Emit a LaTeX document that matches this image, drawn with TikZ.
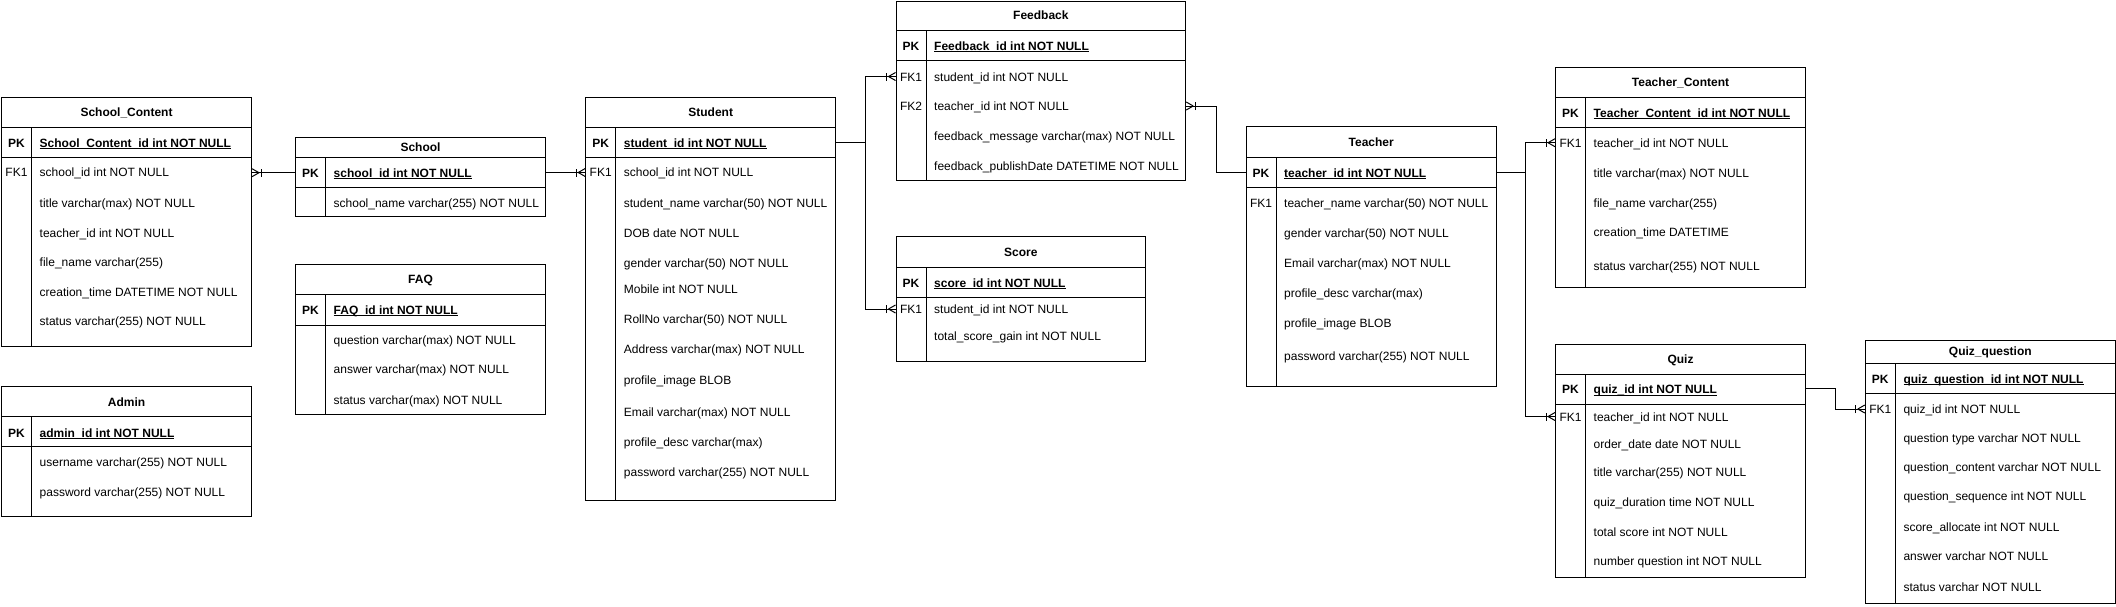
\documentclass[tikz,border=0pt]{standalone}
\usepackage{fontspec}
\setmainfont{Liberation Sans}
\usetikzlibrary{fit,calc}

\newcounter{tn}
\tikzset{
  x=1pt, y=-1pt,
  tline/.style={draw=black, line width=1pt},
  tbox/.style={draw=black, line width=1pt, inner sep=0pt},
  conn/.style={draw=black, line width=1pt},
  txt/.style={inner sep=0pt, text height=8.6pt, text depth=0pt, font=\fontsize{12}{14}\selectfont},
  ttitle/.style={txt, font=\bfseries\fontsize{12}{14}\selectfont},
  tkey/.style={txt},
  tpkkey/.style={txt, font=\bfseries\fontsize{12}{14}\selectfont},
  tfield/.style={txt, anchor=west},
  tpk/.style={txt, anchor=west, font=\bfseries\fontsize{12}{14}\selectfont},
}

\newcommand{\ulx}[1]{\setbox0\hbox{#1}\rlap{\rule[-2pt]{\wd0}{0.9pt}}\box0}

% #1 name #2 left #3 top #4 right #5 bottom #6 title div #7 pk div #8 title
\newcommand{\ertable}[8]{%
  \coordinate (#1-nw) at (#2,#3);
  \coordinate (#1-se) at (#4,#5);
  \node[tbox, fit=(#1-nw)(#1-se)] (#1) {};
  \draw[tline] (#2,#6) -- (#4,#6);
  \draw[tline] (#2,#7) -- (#4,#7);
  \draw[tline] (#2+30,#6) -- (#2+30,#5);
  \node[ttitle] (#1-title) at ({(#2+#4)/2},{(#3+#6)/2}) {#8};
}
% #1 left #2 y #3 text
\newcommand{\pkrow}[3]{\stepcounter{tn}%
  \node[tpkkey] (k\arabic{tn}) at (#1+15,#2) {PK};
  \node[tpk] (f\arabic{tn}) at (#1+38,#2) {\ulx{#3}};}
% #1 left #2 y #3 key #4 text
\newcommand{\frow}[4]{\stepcounter{tn}%
  \node[tkey] (k\arabic{tn}) at (#1+15,#2) {#3};
  \node[tfield] (f\arabic{tn}) at (#1+38,#2) {#4};}

% crow's foot, box to the right of the point
\newcommand{\crowR}[1]{%
  \draw[conn] ($(#1)+(-7,0)$) -- ($(#1)+(0,4)$);
  \draw[conn] ($(#1)+(-7,0)$) -- ($(#1)+(0,-4)$);
  \draw[conn] ($(#1)+(-9,4)$) -- ($(#1)+(-9,-4)$);}
% crow's foot, box to the left of the point
\newcommand{\crowL}[1]{%
  \draw[conn] ($(#1)+(7,0)$) -- ($(#1)+(0,4)$);
  \draw[conn] ($(#1)+(7,0)$) -- ($(#1)+(0,-4)$);
  \draw[conn] ($(#1)+(9,4)$) -- ($(#1)+(9,-4)$);}

\begin{document}
\begin{tikzpicture}
\useasboundingbox (0,0) rectangle (2116,606);

% School_Content
\ertable{sc}{1.5}{97.3}{251.5}{346.3}{127}{157.3}{School\_Content}
\pkrow{1.5}{142.7}{School\_Content\_id int NOT NULL}
\frow{1.5}{172.3}{FK1}{school\_id int NOT NULL}
\frow{1.5}{202.7}{}{title varchar(max) NOT NULL}
\frow{1.5}{232.7}{}{teacher\_id int NOT NULL}
\frow{1.5}{262.3}{}{file\_name varchar(255)}
\frow{1.5}{291.7}{}{creation\_time DATETIME NOT NULL}
\frow{1.5}{321}{}{status varchar(255) NOT NULL}

% Admin
\ertable{admin}{1.5}{386.7}{251.5}{516.7}{416.7}{446.7}{Admin}
\pkrow{1.5}{432.7}{admin\_id int NOT NULL}
\frow{1.5}{462.3}{}{username varchar(255) NOT NULL}
\frow{1.5}{491.7}{}{password varchar(255) NOT NULL}

% School
\ertable{school}{295.5}{137.7}{545.5}{216.7}{157.3}{187.3}{School}
\pkrow{295.5}{172.7}{school\_id int NOT NULL}
\frow{295.5}{202.7}{}{school\_name varchar(255) NOT NULL}

% FAQ
\ertable{faq}{295.5}{264.3}{545.5}{414}{294.3}{325}{FAQ}
\pkrow{295.5}{310}{FAQ\_id int NOT NULL}
\frow{295.5}{340}{}{question varchar(max) NOT NULL}
\frow{295.5}{369.3}{}{answer varchar(max) NOT NULL}
\frow{295.5}{400}{}{status varchar(max) NOT NULL}

% Student
\ertable{student}{585.7}{97.3}{835.7}{500}{127.3}{157.3}{Student}
\pkrow{585.7}{142.7}{student\_id int NOT NULL}
\frow{585.7}{172.3}{FK1}{school\_id int NOT NULL}
\frow{585.7}{202.7}{}{student\_name varchar(50) NOT NULL}
\frow{585.7}{232.7}{}{DOB date NOT NULL}
\frow{585.7}{262.7}{}{gender varchar(50) NOT NULL}
\frow{585.7}{289.3}{}{Mobile int NOT NULL}
\frow{585.7}{319.3}{}{RollNo varchar(50) NOT NULL}
\frow{585.7}{349.3}{}{Address varchar(max) NOT NULL}
\frow{585.7}{380}{}{profile\_image BLOB}
\frow{585.7}{411.7}{}{Email varchar(max) NOT NULL}
\frow{585.7}{441.7}{}{profile\_desc varchar(max)}
\frow{585.7}{471.7}{}{password varchar(255) NOT NULL}

% Feedback
\ertable{feedback}{896}{1}{1185.7}{180.7}{30}{60.7}{Feedback}
\pkrow{896}{46}{Feedback\_id int NOT NULL}
\frow{896}{77.3}{FK1}{student\_id int NOT NULL}
\frow{896}{106}{FK2}{teacher\_id int NOT NULL}
\frow{896}{136}{}{feedback\_message varchar(max) NOT NULL}
\frow{896}{165.7}{}{feedback\_publishDate DATETIME NOT NULL}

% Score
\ertable{score}{896}{236.7}{1145.7}{361}{267.3}{297}{Score}
\pkrow{896}{282.7}{score\_id int NOT NULL}
\frow{896}{309.3}{FK1}{student\_id int NOT NULL}
\frow{896}{336}{}{total\_score\_gain int NOT NULL}

% Teacher
\ertable{teacher}{1246}{126.7}{1496.5}{386.7}{157.3}{187}{Teacher}
\pkrow{1246}{172.7}{teacher\_id int NOT NULL}
\frow{1246}{202.7}{FK1}{teacher\_name varchar(50) NOT NULL}
\frow{1246}{232.7}{}{gender varchar(50) NOT NULL}
\frow{1246}{262.7}{}{Email varchar(max) NOT NULL}
\frow{1246}{292.7}{}{profile\_desc varchar(max)}
\frow{1246}{323.3}{}{profile\_image BLOB}
\frow{1246}{355.7}{}{password varchar(255) NOT NULL}

% Teacher_Content
\ertable{tc}{1555.5}{67.3}{1805.5}{287.3}{97.3}{127.7}{Teacher\_Content}
\pkrow{1555.5}{112.7}{Teacher\_Content\_id int NOT NULL}
\frow{1555.5}{142.7}{FK1}{teacher\_id int NOT NULL}
\frow{1555.5}{172.7}{}{title varchar(max) NOT NULL}
\frow{1555.5}{202.7}{}{file\_name varchar(255)}
\frow{1555.5}{231.7}{}{creation\_time DATETIME}
\frow{1555.5}{265.7}{}{status varchar(255) NOT NULL}

% Quiz
\ertable{quiz}{1555.5}{344}{1805.5}{577.7}{374}{404}{Quiz}
\pkrow{1555.5}{389.3}{quiz\_id int NOT NULL}
\frow{1555.5}{416.7}{FK1}{teacher\_id int NOT NULL}
\frow{1555.5}{444}{}{order\_date date NOT NULL}
\frow{1555.5}{471.7}{}{title varchar(255) NOT NULL}
\frow{1555.5}{501.7}{}{quiz\_duration time NOT NULL}
\frow{1555.5}{531.7}{}{total score int NOT NULL}
\frow{1555.5}{561}{}{number question int NOT NULL}

% Quiz_question
\ertable{qq}{1865.3}{340}{2115.3}{603.3}{363.3}{393.3}{Quiz\_question}
\pkrow{1865.3}{379}{quiz\_question\_id int NOT NULL}
\frow{1865.3}{409}{FK1}{quiz\_id int NOT NULL}
\frow{1865.3}{438.3}{}{question type varchar NOT NULL}
\frow{1865.3}{467.3}{}{question\_content varchar NOT NULL}
\frow{1865.3}{495.7}{}{question\_sequence int NOT NULL}
\frow{1865.3}{526.7}{}{score\_allocate int NOT NULL}
\frow{1865.3}{555.7}{}{answer varchar NOT NULL}
\frow{1865.3}{586.7}{}{status varchar NOT NULL}

% ---- connectors ----
% School -> School_Content
\coordinate (e1a) at (school.west |- 0,172.7);
\coordinate (e1b) at (sc.east |- 0,172.7);
\draw[conn] (e1a) -- (e1b);
\crowL{e1b}
% School -> Student
\coordinate (e2a) at (school.east |- 0,172.5);
\coordinate (e2b) at (student.west |- 0,172.5);
\draw[conn] (e2a) -- (e2b);
\crowR{e2b}
% Student -> Feedback, Score
\coordinate (e3a) at (student.east |- 0,142.7);
\coordinate (j1) at (865,142.7);
\coordinate (e3b) at (feedback.west |- 0,76.5);
\coordinate (e3c) at (score.west |- 0,309);
\draw[conn] (e3a) -- (j1) |- (e3b);
\draw[conn] (j1) |- (e3c);
\crowR{e3b}
\crowR{e3c}
% Teacher -> Feedback
\coordinate (e4a) at (teacher.west |- 0,172.7);
\coordinate (j2) at (1216,172.7);
\coordinate (e4b) at (feedback.east |- 0,106);
\draw[conn] (e4a) -- (j2) |- (e4b);
\crowL{e4b}
% Teacher -> Teacher_Content, Quiz
\coordinate (e5a) at (teacher.east |- 0,172.7);
\coordinate (j3) at (1525.8,172.7);
\coordinate (e5b) at (tc.west |- 0,142.7);
\coordinate (e5c) at (quiz.west |- 0,416.5);
\draw[conn] (e5a) -- (j3) |- (e5b);
\draw[conn] (j3) |- (e5c);
\crowR{e5b}
\crowR{e5c}
% Quiz -> Quiz_question
\coordinate (e6a) at (quiz.east |- 0,388.5);
\coordinate (j4) at (1835.8,388.5);
\coordinate (e6b) at (qq.west |- 0,409);
\draw[conn] (e6a) -- (j4) |- (e6b);
\crowR{e6b}
\end{tikzpicture}
\end{document}
